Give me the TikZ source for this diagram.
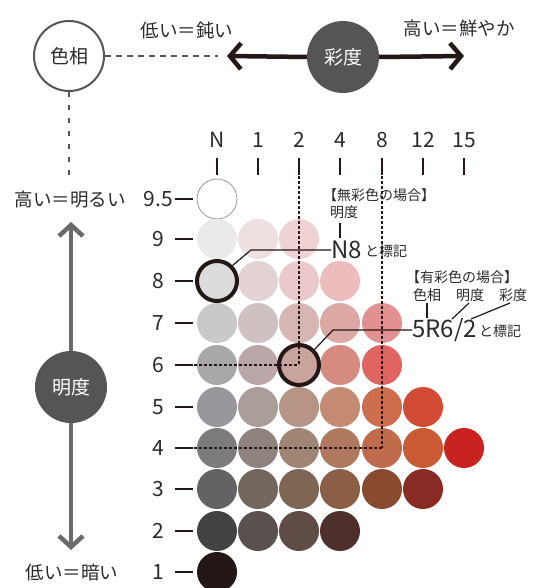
\documentclass[tikz,border=0pt]{standalone}
\usepackage{fontspec}
\setmainfont{Noto Sans CJK JP}
\usetikzlibrary{arrows.meta}
\definecolor{ink}{HTML}{231815}
\definecolor{txt}{HTML}{2B2B2B}
\definecolor{dgray}{HTML}{555555}
\definecolor{agray}{HTML}{6A6A6A}
\begin{document}
\begin{tikzpicture}[x=1pt,y=-1pt,
  chip/.style={circle, minimum size=40pt, inner sep=0pt, draw=none},
  hl/.style={circle, minimum size=40pt, inner sep=0pt, draw=ink, line width=4pt},
  bigcirc/.style={circle, minimum size=72pt, inner sep=0pt, text=white, fill=dgray, font=\fontsize{19}{21}\selectfont},
  jl/.style={inner sep=0pt, text=txt, font=\fontsize{18.5}{21}\selectfont},
  small/.style={inner sep=0pt, text=txt, font=\fontsize{14}{16}\selectfont},
  big/.style={inner sep=0pt, text=txt, font=\fontsize{24}{26}\selectfont},
  num/.style={inner sep=0pt, text=txt, font=\fontsize{21}{23}\selectfont},
  tickline/.style={draw=ink, line width=2pt},
  dotline/.style={draw=ink, line width=1.2pt, dash pattern=on 2.5pt off 2.5pt},
  leader/.style={draw=ink, line width=1.2pt},
  hdash/.style={draw=dgray, line width=2.5pt, dash pattern=on 6pt off 5pt},
  vdash/.style={draw=dgray, line width=2.5pt, dash pattern=on 5pt off 8pt},
  harrow/.style={draw=ink, line width=4.5pt, -{Straight Barb[length=11pt,width=26pt]}},
  varrow/.style={draw=agray, line width=4.5pt, -{Straight Barb[length=11pt,width=24pt]}}
]
\useasboundingbox (0,0) rectangle (546,588);
\fill[white] (0,0) rectangle (546,588);

% column / row positions
\foreach \c/\x in {N/217,1/258,2/299,4/340,8/382,12/423,15/464}{
  \coordinate (x-\c) at (\x,0);
  \node[num] (col-\c) at (\x,140) {\c};
  \draw[tickline] (\x,158) -- (\x,175);
  \coordinate (tb-\c) at (\x,176);
}
\foreach \r/\y/\t in {95/199/9.5,9/239/9,8/281/8,7/323/7,6/365/6,5/407/5,4/448/4,3/489/3,2/531/2,1/572/1}{
  \coordinate (y-\r) at (0,\y);
  \node[num] (row-\r) at (158.5,\y) {\t};
  \draw[tickline] (175,\y) -- (193,\y);
  \coordinate (te-\r) at (194,\y);
}

% colour chips
\node[chip, fill=white, draw=gray!80, line width=0.8pt] (c95-N) at (x-N |- y-95) {};
\foreach \r/\c/\h in {
  9/N/EAEAEA, 9/1/EEE0E1, 9/2/F0D2D4,
  8/N/DCDCDC, 8/1/E3D2D3, 8/2/EBC9CA, 8/4/ECBDBC,
  7/N/C9C9CC, 7/1/CFC0C1, 7/2/D6B6B4, 7/4/DCA8A4, 7/8/E39190,
  6/N/A8A8AA, 6/1/BBA7A7, 6/2/C9A49C, 6/4/D78A80, 6/8/E06560,
  5/N/98989C, 5/1/AB9D98, 5/2/B89486, 5/4/C58A72, 5/8/CD6D4D, 5/12/D24B35,
  4/N/7C7C7E, 4/1/8F847D, 4/2/A08474, 4/4/B0785C, 4/8/C06C4C, 4/12/C95A33, 4/15/C8231F,
  3/N/636365, 3/1/72665F, 3/2/7E6554, 3/4/8A5F45, 3/8/8A4A30, 3/12/8A2A24,
  2/N/444243, 2/1/5A504E, 2/2/5F4C47, 2/4/4D2F2B,
  1/N/231815}{
  \definecolor{tmpc}{HTML}{\h}
  \node[chip, fill=tmpc] (c\r-\c) at (x-\c |- y-\r) {};
}

% dotted guide lines
\draw[dotline] (tb-2) -- (c6-2.center);
\draw[dotline] (te-6) -- (c6-2.center);
\draw[dotline] (tb-8) -- (c4-8.center);
\draw[dotline] (te-4) -- (c4-8.center);

% highlighted chips
\node[hl] (h8) at (c8-N) {};
\node[hl] (h6) at (c6-2) {};

% top: hue / chroma
\node[circle, minimum size=70pt, inner sep=0pt, draw=dgray, line width=2pt, fill=white, text=txt, font=\fontsize{19}{21}\selectfont] (hue) at (69,56) {色相};
\node[bigcirc] (chroma) at (343,57) {彩度};
\coordinate (hdend) at (218,56);
\coordinate (tipL) at (227,56);
\coordinate (tipR) at (464,56);
\draw[hdash] (hue.east) -- (hdend);
\draw[harrow] (chroma.west) -- (tipL);
\draw[harrow] (chroma.east) -- (tipR);
\node[jl] (low1) at (187,30) {低い＝鈍い};
\node[jl] (high1) at (459,28) {高い＝鮮やか};

% left: value
\coordinate (vdend) at (69,176);
\draw[vdash] (hue.south) -- (vdend);
\node[jl] (high2) at (70,200) {高い＝明るい};
\node[bigcirc] (value) at (71,387) {明度};
\coordinate (tipU) at (71,222);
\coordinate (tipD) at (71,550);
\draw[varrow] (value.north) -- (tipU);
\draw[varrow] (value.south) -- (tipD);
\node[jl] (low2) at (72,572) {低い＝暗い};

% annotation: achromatic
\node[small] (a1) at (379,195) {【無彩色の場合】};
\node[small] (a2) at (344,212) {明度};
\node[big, anchor=west] (n8) at (331,250) {N8};
\node[small, anchor=west] (n8t) at (365,251) {と標記};
\coordinate (a2b) at (340,223);
\coordinate (a2e) at (340,238);
\draw[leader] (a2b) -- (a2e);
\coordinate (k1) at (251,250);
\draw[leader] (h8.45) -- (k1) -- (n8.west);

% annotation: chromatic
\node[small] (b1) at (462,277) {【有彩色の場合】};
\node[small] (bh) at (427,295) {色相};
\node[small] (bv) at (470,295) {明度};
\node[small] (bc) at (513,295) {彩度};
\node[big, anchor=west] (r62) at (412,330) {5R6/2};
\node[small, anchor=west] (r62t) at (479,331) {と標記};
\coordinate (l1a) at (427,303); \coordinate (l1b) at (427,318);
\coordinate (l2a) at (469,303); \coordinate (l2b) at (452,319);
\coordinate (l3a) at (510,303); \coordinate (l3b) at (471,319);
\draw[leader] (l1a) -- (l1b);
\draw[leader] (l2a) -- (l2b);
\draw[leader] (l3a) -- (l3b);
\coordinate (k2) at (333,330);
\draw[leader] (h6.45) -- (k2) -- (r62.west);
\end{tikzpicture}
\end{document}
